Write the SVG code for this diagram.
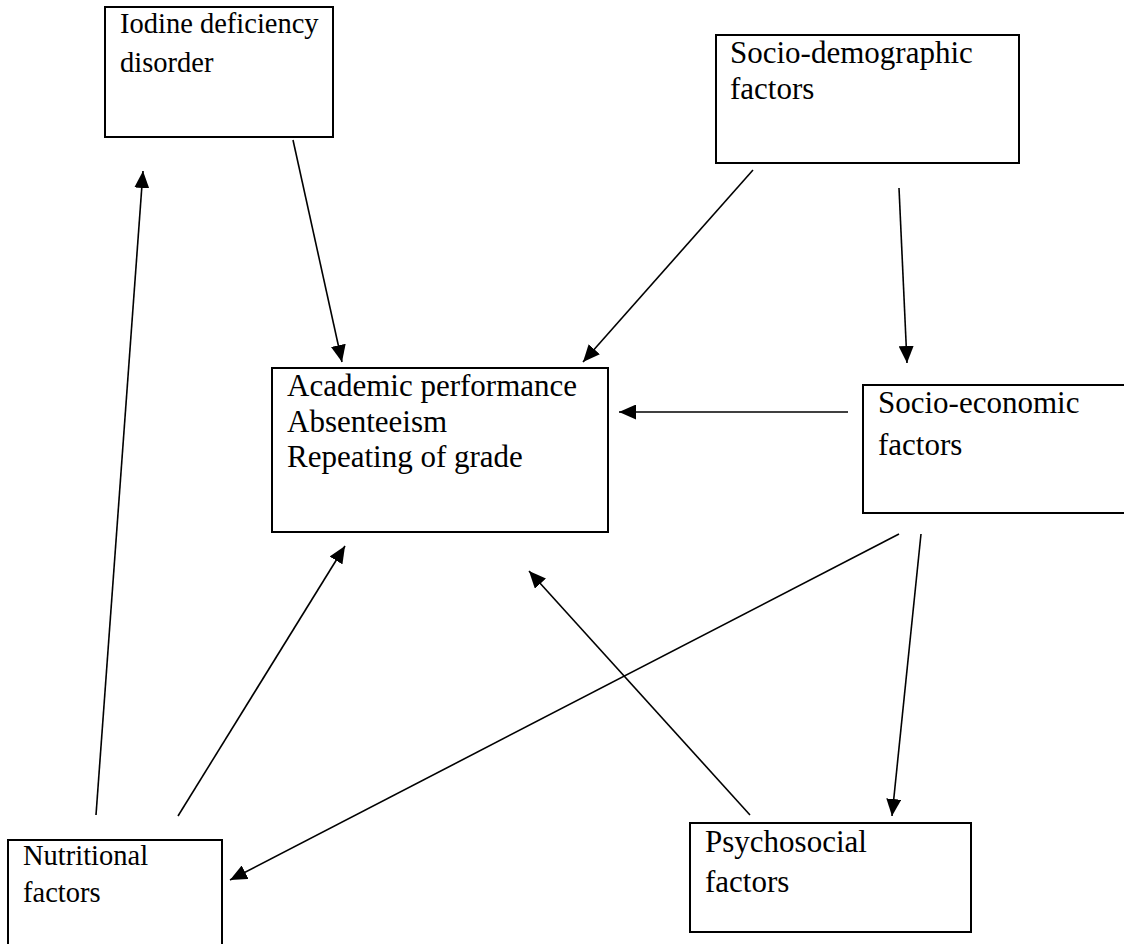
<svg xmlns="http://www.w3.org/2000/svg" width="1124" height="944" viewBox="0 0 1124 944">
<style>
.box{fill:#fff;stroke:#000;stroke-width:2}
.t{font-family:"Liberation Serif","Times New Roman",serif;font-size:31px;fill:#000}
.t28{font-size:28.5px}
.c line{stroke:#000;stroke-width:1.6;marker-end:url(#ah)}
</style>
<defs>
<marker id="ah" markerUnits="userSpaceOnUse" markerWidth="17" markerHeight="15" refX="17" refY="7.5" orient="auto">
<path d="M0,0 L17,7.5 L0,15 z" fill="#000"/>
</marker>
</defs>
<rect width="1124" height="944" fill="#fff"/>
<g id="iodine">
<rect class="box" x="105" y="7" width="228" height="130"/>
<text class="t t28" x="120" y="33">Iodine deficiency</text>
<text class="t t28" x="120" y="72">disorder</text>
</g>
<g id="sociodemographic">
<rect class="box" x="716" y="35" width="303" height="128"/>
<text class="t" x="730" y="63">Socio-demographic</text>
<text class="t" x="730" y="99">factors</text>
</g>
<g id="academic">
<rect class="box" x="272" y="368" width="336" height="164"/>
<text class="t" x="287" y="396">Academic performance</text>
<text class="t" x="287" y="432">Absenteeism</text>
<text class="t" x="287" y="467">Repeating of grade</text>
</g>
<g id="socioeconomic">
<path class="box" d="M1126,385 H863 V513 H1126" />
<text class="t" x="878" y="413">Socio-economic</text>
<text class="t" x="878" y="455">factors</text>
</g>
<g id="nutritional">
<path class="box" d="M8,946 V840 H222 V946" />
<text class="t t28" x="23" y="865">Nutritional</text>
<text class="t t28" x="23" y="902">factors</text>
</g>
<g id="psychosocial">
<rect class="box" x="690" y="823" width="281" height="109"/>
<text class="t" x="705" y="852">Psychosocial</text>
<text class="t" x="705" y="892">factors</text>
</g>
<g id="connectors" class="c">
<line x1="293" y1="140" x2="342" y2="362"/>
<line x1="753" y1="170" x2="583" y2="362"/>
<line x1="899" y1="188" x2="907" y2="363"/>
<line x1="848" y1="412" x2="619" y2="412"/>
<line x1="921" y1="534" x2="892" y2="816"/>
<line x1="899" y1="534" x2="230" y2="880"/>
<line x1="96" y1="815" x2="143" y2="171"/>
<line x1="178" y1="816" x2="345" y2="546"/>
<line x1="750" y1="815" x2="529" y2="571"/>
</g>
</svg>
